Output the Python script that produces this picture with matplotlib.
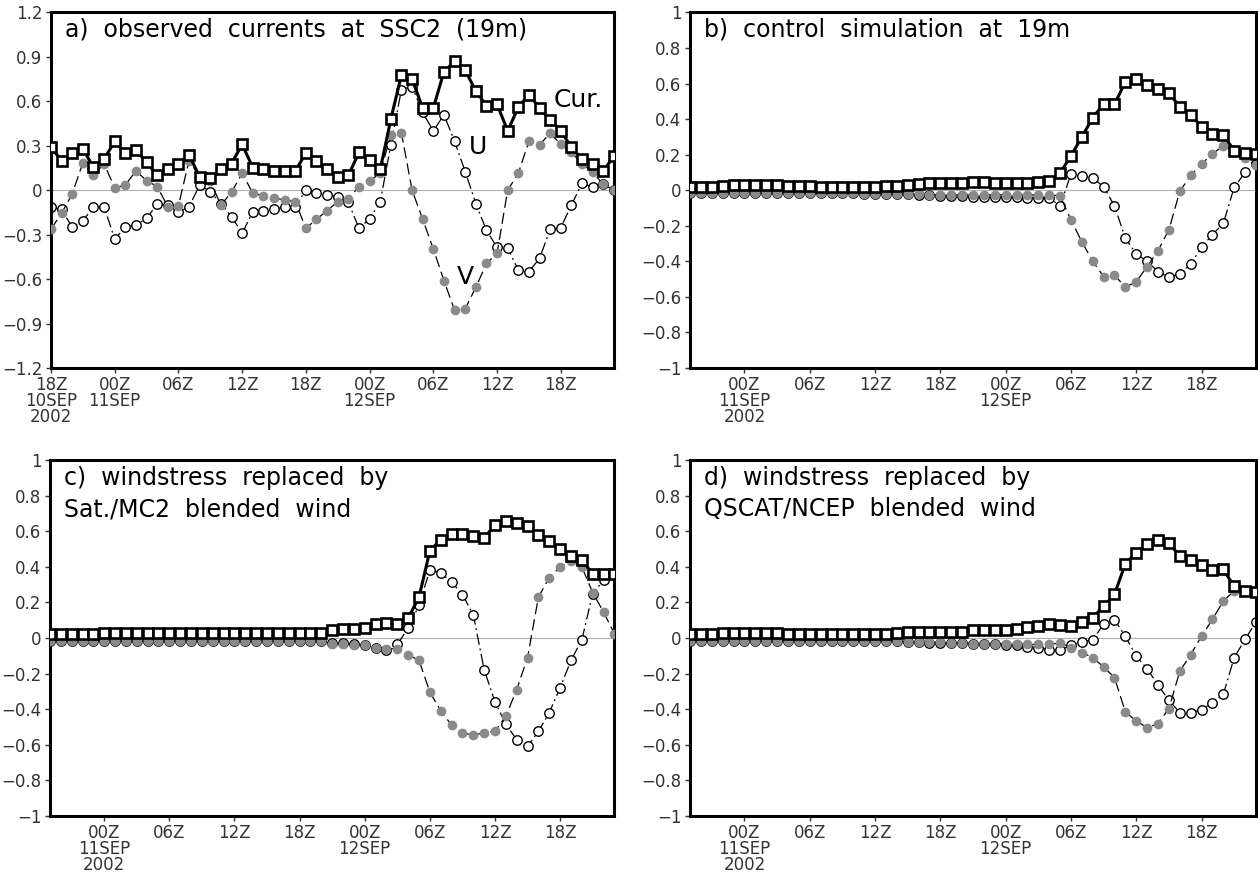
import numpy as np
import matplotlib
matplotlib.use('Agg')
import matplotlib.pyplot as plt
from matplotlib import font_manager

# hours counted from 18Z 10SEP2002
hours_a = np.arange(0, 54)
hours_sim = np.arange(1, 54)

# a) observed currents at SSC2 (19m)
cur_a = [0.29, 0.20, 0.25, 0.28, 0.155, 0.21, 0.33, 0.25, 0.27, 0.19,
         0.10, 0.14, 0.18, 0.24, 0.09, 0.08, 0.14, 0.18, 0.31, 0.153,
         0.14, 0.133, 0.13, 0.13, 0.25, 0.20, 0.14, 0.09, 0.10, 0.255,
         0.205, 0.14, 0.48, 0.78, 0.75, 0.555, 0.555, 0.80, 0.87, 0.81,
         0.67, 0.57, 0.58, 0.40, 0.56, 0.645, 0.555, 0.475, 0.40, 0.29,
         0.21, 0.176, 0.13, 0.23]
u_a = [-0.11, -0.13, -0.25, -0.205, -0.115, -0.11, -0.33, -0.25, -0.235, -0.19,
       -0.095, -0.10, -0.15, -0.11, 0.034, -0.01, -0.09, -0.178, -0.29, -0.147,
       -0.138, -0.126, -0.115, -0.11, 0.0, -0.016, -0.03, -0.043, -0.08, -0.257,
       -0.194, -0.08, 0.307, 0.68, 0.70, 0.525, 0.40, 0.51, 0.33, 0.126,
       -0.09, -0.27, -0.386, -0.39, -0.54, -0.55, -0.46, -0.264, -0.253, -0.10,
       0.047, 0.02, 0.04, 0.0]
v_a = [-0.264, -0.155, -0.025, 0.185, 0.10, 0.18, 0.015, 0.035, 0.13, 0.065,
       0.025, -0.11, -0.105, 0.20, 0.09, 0.06, -0.10, -0.014, 0.115, -0.02,
       -0.038, -0.054, -0.065, -0.077, -0.257, -0.196, -0.138, -0.077, -0.06, 0.025,
       0.063, 0.115, 0.375, 0.386, 0.0, -0.196, -0.397, -0.61, -0.81, -0.80,
       -0.656, -0.494, -0.426, 0.0, 0.115, 0.33, 0.307, 0.385, 0.31, 0.255,
       0.18, 0.12, 0.04, 0.0]

# b) control simulation at 19m
cur_b = [0.02, 0.02, 0.02, 0.025, 0.03, 0.03, 0.03, 0.03, 0.028, 0.026,
         0.022, 0.022, 0.02, 0.019, 0.019, 0.019, 0.019, 0.019, 0.021, 0.026,
         0.03, 0.034, 0.038, 0.039, 0.039, 0.04, 0.046, 0.046, 0.042, 0.04,
         0.04, 0.043, 0.047, 0.05, 0.096, 0.193, 0.30, 0.407, 0.486, 0.484,
         0.61, 0.628, 0.593, 0.568, 0.546, 0.47, 0.424, 0.358, 0.315, 0.31,
         0.223, 0.208, 0.205]
u_b = [-0.017, -0.017, -0.017, -0.017, -0.017, -0.017, -0.017, -0.017, -0.017, -0.017,
       -0.017, -0.017, -0.017, -0.017, -0.017, -0.018, -0.019, -0.02, -0.021, -0.022,
       -0.022, -0.025, -0.028, -0.03, -0.032, -0.034, -0.036, -0.036, -0.04, -0.036,
       -0.036, -0.041, -0.043, -0.043, -0.088, 0.09, 0.08, 0.067, 0.02, -0.088,
       -0.27, -0.358, -0.40, -0.458, -0.49, -0.47, -0.416, -0.32, -0.25, -0.186,
       0.017, 0.10, 0.15]
v_b = [-0.017, -0.017, -0.017, -0.017, -0.017, -0.017, -0.017, -0.017, -0.017, -0.017,
       -0.017, -0.017, -0.017, -0.017, -0.017, -0.018, -0.019, -0.02, -0.021, -0.022,
       -0.023, -0.024, -0.025, -0.026, -0.026, -0.026, -0.026, -0.026, -0.026, -0.026,
       -0.026, -0.026, -0.026, -0.026, -0.032, -0.167, -0.29, -0.40, -0.486, -0.477,
       -0.546, -0.514, -0.43, -0.34, -0.223, -0.006, 0.083, 0.148, 0.205, 0.25,
       0.22, 0.18, 0.14]

# c) Sat./MC2 blended wind
cur_c = [0.02, 0.022, 0.022, 0.025, 0.025, 0.029, 0.029, 0.029, 0.029, 0.029,
         0.029, 0.029, 0.029, 0.029, 0.029, 0.029, 0.029, 0.029, 0.029, 0.029,
         0.029, 0.029, 0.029, 0.029, 0.029, 0.029, 0.047, 0.052, 0.052, 0.056,
         0.08, 0.084, 0.08, 0.112, 0.23, 0.49, 0.553, 0.583, 0.583, 0.574,
         0.562, 0.637, 0.658, 0.649, 0.628, 0.577, 0.545, 0.50, 0.46, 0.437,
         0.362, 0.362, 0.362]
u_c = [-0.018, -0.018, -0.018, -0.018, -0.018, -0.018, -0.018, -0.018, -0.018, -0.018,
       -0.018, -0.018, -0.018, -0.018, -0.018, -0.018, -0.018, -0.018, -0.018, -0.018,
       -0.018, -0.018, -0.018, -0.018, -0.018, -0.018, -0.03, -0.03, -0.035, -0.04,
       -0.055, -0.065, -0.036, 0.056, 0.184, 0.384, 0.366, 0.315, 0.244, 0.131,
       -0.178, -0.36, -0.485, -0.572, -0.61, -0.525, -0.42, -0.28, -0.126, -0.01,
       0.25, 0.324, 0.36]
v_c = [-0.018, -0.018, -0.018, -0.018, -0.018, -0.018, -0.018, -0.018, -0.018, -0.018,
       -0.018, -0.018, -0.018, -0.018, -0.018, -0.018, -0.018, -0.018, -0.018, -0.018,
       -0.018, -0.018, -0.018, -0.018, -0.018, -0.018, -0.032, -0.032, -0.037, -0.041,
       -0.054, -0.06, -0.06, -0.094, -0.126, -0.304, -0.41, -0.49, -0.534, -0.547,
       -0.532, -0.525, -0.44, -0.29, -0.11, 0.23, 0.34, 0.40, 0.433, 0.40,
       0.255, 0.146, 0.024]

# d) QSCAT/NCEP blended wind
cur_d = [0.02, 0.02, 0.02, 0.028, 0.028, 0.028, 0.028, 0.028, 0.028, 0.025,
         0.025, 0.025, 0.025, 0.025, 0.025, 0.025, 0.025, 0.025, 0.025, 0.03,
         0.032, 0.032, 0.033, 0.033, 0.033, 0.034, 0.043, 0.043, 0.043, 0.043,
         0.052, 0.062, 0.069, 0.077, 0.075, 0.069, 0.09, 0.114, 0.178, 0.246,
         0.418, 0.48, 0.53, 0.553, 0.534, 0.46, 0.437, 0.409, 0.38, 0.386,
         0.29, 0.264, 0.259]
u_d = [-0.018, -0.018, -0.018, -0.018, -0.018, -0.018, -0.018, -0.018, -0.018, -0.018,
       -0.018, -0.018, -0.018, -0.018, -0.018, -0.018, -0.018, -0.018, -0.018, -0.018,
       -0.022, -0.024, -0.026, -0.028, -0.029, -0.03, -0.032, -0.034, -0.036, -0.038,
       -0.041, -0.05, -0.056, -0.065, -0.069, -0.041, -0.022, -0.01, 0.077, 0.103,
       0.01, -0.103, -0.172, -0.266, -0.35, -0.42, -0.42, -0.403, -0.364, -0.317,
       -0.11, -0.007, 0.09]
v_d = [-0.018, -0.018, -0.018, -0.018, -0.018, -0.018, -0.018, -0.018, -0.018, -0.018,
       -0.018, -0.018, -0.018, -0.018, -0.018, -0.018, -0.018, -0.018, -0.018, -0.018,
       -0.022, -0.023, -0.024, -0.025, -0.026, -0.028, -0.032, -0.032, -0.032, -0.032,
       -0.032, -0.036, -0.036, -0.036, -0.028, -0.054, -0.082, -0.11, -0.163, -0.223,
       -0.416, -0.467, -0.504, -0.482, -0.397, -0.187, -0.094, 0.01, 0.105, 0.208,
       0.265, 0.265, 0.255]

titles = ['a)  observed  currents  at  SSC2  (19m)',
          'b)  control  simulation  at  19m',
          'c)  windstress  replaced  by\nSat./MC2  blended  wind',
          'd)  windstress  replaced  by\nQSCAT/NCEP  blended  wind']

ticks_a = [0, 6, 12, 18, 24, 30, 36, 42, 48]
ticklabels_a = ['18Z\n10SEP\n2002', '00Z\n11SEP', '06Z', '12Z', '18Z',
                '00Z\n12SEP', '06Z', '12Z', '18Z']
ticks_sim = [6, 12, 18, 24, 30, 36, 42, 48]
ticklabels_sim = ['00Z\n11SEP\n2002', '06Z', '12Z', '18Z',
                  '00Z\n12SEP', '06Z', '12Z', '18Z']

yticks_a = [1.2, 0.9, 0.6, 0.3, 0, -0.3, -0.6, -0.9, -1.2]
yticklabels_a = ['1.2', '0.9', '0.6', '0.3', '0', '\u22120.3', '\u22120.6', '\u22120.9', '\u22121.2']
yticks_sim = [1, 0.8, 0.6, 0.4, 0.2, 0, -0.2, -0.4, -0.6, -0.8, -1]
yticklabels_sim = ['1', '0.8', '0.6', '0.4', '0.2', '0', '\u22120.2', '\u22120.4',
                   '\u22120.6', '\u22120.8', '\u22121']

# pick a narrow face for tick labels if one is there
installed = {f.name for f in font_manager.fontManager.ttflist}
tick_family = 'Liberation Sans Narrow' if 'Liberation Sans Narrow' in installed else 'DejaVu Sans'
plt.rcParams['font.family'] = 'DejaVu Sans'

fig = plt.figure(figsize=(12.58, 8.73), dpi=100)
boxes = [[0.0405, 0.5785, 0.4475, 0.4072],
         [0.5485, 0.5785, 0.4499, 0.4072],
         [0.0397, 0.0656, 0.4487, 0.4072],
         [0.5485, 0.0656, 0.4499, 0.4072]]
series = [(hours_a, cur_a, u_a, v_a),
          (hours_sim, cur_b, u_b, v_b),
          (hours_sim, cur_c, u_c, v_c),
          (hours_sim, cur_d, u_d, v_d)]

for i, (box, (t, cur, u, v)) in enumerate(zip(boxes, series)):
    ax = fig.add_axes(box)
    ax.axhline(0, color='#b0b0b0', lw=0.8, zorder=1)
    ax.plot(t, u, color='black', lw=0.9, dashes=[9, 3, 1.5, 3],
            marker='o', ms=6.8, mfc='white', mec='black', mew=1.0, zorder=2)
    ax.plot(t, v, color='black', lw=0.9, dashes=[9, 4],
            marker='o', ms=7.0, mfc='#8a8a8a', mec='#8a8a8a', mew=0, zorder=3)
    ax.plot(t, cur, color='black', lw=2.2,
            marker='s', ms=7.6, mfc='white', mec='black', mew=1.9, zorder=4)

    ax.set_xlim(t[0], 53)
    if i == 0:
        ax.set_ylim(-1.2, 1.2)
        ax.set_yticks(yticks_a)
        ax.set_yticklabels(yticklabels_a)
        ax.set_xticks(ticks_a)
        ax.set_xticklabels(ticklabels_a)
        ax.text(47.3, 0.61, 'Cur.', fontsize=18, va='center', ha='left')
        ax.text(40.2, 0.295, 'U', fontsize=18, va='center', ha='center')
        ax.text(39.0, -0.585, 'V', fontsize=18, va='center', ha='center')
    else:
        ax.set_ylim(-1, 1)
        ax.set_yticks(yticks_sim)
        ax.set_yticklabels(yticklabels_sim)
        ax.set_xticks(ticks_sim)
        ax.set_xticklabels(ticklabels_sim)

    ax.text(0.025, 0.985, titles[i], transform=ax.transAxes, fontsize=17,
            va='top', ha='left', linespacing=1.4)

    ax.tick_params(direction='out', length=3.6, width=1.0, pad=2.5,
                   labelsize=12, colors='#333333')
    for lab in ax.get_xticklabels() + ax.get_yticklabels():
        lab.set_family(tick_family)
        lab.set_linespacing(0.85)
    for s in ax.spines.values():
        s.set_linewidth(2.2)

plt.savefig('out.png', dpi=100)
